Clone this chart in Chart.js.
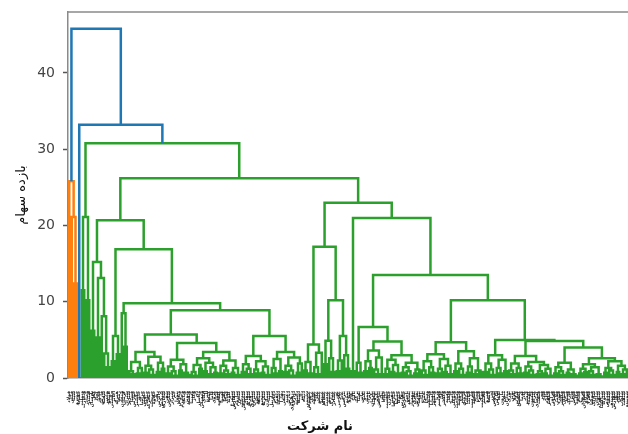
<!DOCTYPE html>
<html>
<head>
<meta charset="utf-8">
<script src="https://cdn.jsdelivr.net/npm/chart.js@4"></script>
<style>
html,body{margin:0;padding:0;background:#fff;overflow:hidden;}
canvas{display:block;}
</style>
</head>
<body>
<canvas id="c" width="628" height="434"></canvas>
<script>
// ---- leaf labels (company names), in dendrogram leaf order ----
const companies = [
 "فولاد","فملی","شپنا","خودرو","خساپا","وبملت","وتجارت","وصادر","شبندر","پارسان",
 "کگل","کچاد","فخوز","فارس","شستا","وغدیر","تاپیکو","حکشتی","اخابر","همراه",
 "رمپنا","ومعادن","کرمان","شتران","شبریز","فسپا","خپارس","خگستر","خاور","خزامیا",
 "خبهمن","ختوقا","خمحرکه","خریخت","خکاوه","رتاپ","زاگرس","شپدیس","شخارک","شفن",
 "شکربن","شیراز","جم","پترول","وپارس","وخارزم","وبانک","ونوین","وپست","وسینا",
 "وکار","دی","وپاسار","ومسکن","اتکای","البرز","کمینا","کاما","کروی","کنور",
 "کساوه","کسرا","کفرا","کخاک","کلوند","سیمرغ","سفارس","ساروم","سخزر","سدشت",
 "سصوفی","سفانو","سهرمز","سشرق","ستران","سخوز","سپاها","سبجنو","سکرما","سمازن",
 "سیتا","ساربیل","دجابر","دلقما","دسبحا","دفارا","دکیمی","دعبید","دپارس","دزهراوی",
 "درازک","داسوه","دسینا","دالبر","دتماد","دشیمی","غبهنوش","غپاک","غشهد","غگل",
 "غمینو","غنوش","غسالم","غدشت","غپینو","غمارگ","غشاذر","غزر","غگرجی","غاذر",
 "بترانس","بموتو","بنیرو","بکام","بالبر","برکت","بمپنا","بپاس","تکنو","تپمپی",
 "تایرا","پکرمان","پسهند","پکویر","پدرخش","پتایر","چکاپا","چافست","چکارن","چفیبر",
 "حپارسا","حسینا","حتوکا","حفارس","حآفرین","ثاخت","ثشاهد","ثبهساز","ثشرق","ثفارس",
 "ثنوسا","ثامان","ثعمرا","وساپا","وصنعت","ولساپا","وبشهر","ورنا","وتوسم","وآتی",
 "وگستر","وسپه","ولغدر","وامید","وبوعلی","وساخت","وتوشه","قشکر","قزوین","قنیشا",
 "قثابت","قلرست","قشهد","قچار","قپیرا","قهکمت","قاسم","قمرو","لابسا","لخزر",
 "لوتوس","لپارس","لکما","مارون","مبین","مداران","نوری","نوین","نیرو","کپارس",
 "کطبس","کدما","کاذر","کپشیر","کهمدا","کیسون","کترام","کسعدی","فنفت","فجر",
 "فاذر","فالوم","فباهنر","فرآور","فسرب","فلامی","فنورد","فگستر","فنوال","فپنتا",
 "فاراک","فایرا","فخاس","فکاوه","فجام","فروی","فسازان","فولای","فافزا","فتوسا",
 "شاراک","شاوان","شبهرن","شپاکسا","شتوکا","شدوص","شسپا","شصدف","شفارس","شکلر",
 "شگل","شلعاب","شنفت","شوینده"
];
const yTicks = [0, 10, 20, 30, 40];
const yMax = 48;
const xTitle = "نام شرکت";
const yTitle = "بازده سهام";
const colorThreshold = 32;
const clusterColors = ["#ff7f0e", "#2ca02c"];
const aboveColor = "#1f77b4";

// ---- linkage tree: [mergeHeight, left, right]; 0 = a single company (leaf) ----
const clusterOrange = [25.8, 0, [21.1, 0, [12.4, 0, 0]]];
const clusterG1 = [21.1, [11.5, 0, 0], [10.2, 0, 0]];
const clusterT = [15.2, [6.2, 0, 0], [13.1, [5.3, 0, 0], [8.1, 0, [3.2, 0, [1.4, 0, 0]]]]];
const clusterU1 = [5.5, [2.2, 0, 0], [3.1, 0, 0]];
const clusterU2a = [8.5, 0, [4.1, 0, 0]];
const clusterP = [3.4,
  [2.1, [0.9, 0, [0.5, 0, 0]], [1.3, [0.6, 0, 0], 0]],
  [2.8, [1.6, [0.7, 0, 0], [1.1, 0, [0.4, 0, 0]]], [2.0, [0.8, 0, 0], [1.2, 0, 0]]]];
const clusterQ = [4.6,
  [2.4, [1.5, [0.6, 0, 0], [0.9, 0, [0.3, 0, 0]]], [1.8, [1.0, 0, 0], [0.7, 0, [0.4, 0, 0]]]],
  [3.4,
    [2.6, [1.7, [0.8, 0, [0.3, 0, 0]], [1.2, 0, 0]], [2.0, [0.9, 0, 0], [1.4, [0.5, 0, 0], [0.7, 0, 0]]]],
    [2.3, [1.6, [0.6, 0, 0], [1.0, 0, [0.5, 0, 0]]], [1.3, [0.7, 0, 0], [0.4, 0, 0]]]]];
const clusterR = [2.9, [1.8, [0.8, 0, 0], [1.2, 0, [0.5, 0, 0]]], [2.2, [1.1, 0, [0.6, 0, 0]], [1.5, [0.7, 0, 0], [0.4, 0, 0]]]];
const clusterS = [3.4, [2.5, [1.3, 0, [0.6, 0, 0]], [0.9, 0, 0]], [2.7, [1.6, [0.8, 0, 0], [1.0, 0, [0.3, 0, 0]]], [1.9, [0.7, 0, 0], 0]]];

const clusterL1 = [4.4, [2.1, [1.0, 0, 0], [0.6, 0, 0]], [3.3, [1.4, 0, [0.5, 0, 0]], 0]];
const clusterL2a = [4.9, [1.8, 0, 0], [2.6, 0, [0.8, 0, 0]]];
const clusterL2b = [5.5, [2.3, [0.9, 0, 0], 0], [3.0, 0, [1.2, 0, 0]]];
const clusterV = [0.9, 0, 0];
const clusterX = [2.0, 0, [0.7, 0, 0]];
const clusterY1 = [3.6, [2.2, [0.9, 0, 0], [1.3, 0, 0]], [2.7, [1.1, 0, [0.5, 0, 0]], 0]];
const clusterY2 = [3.0, [2.4, [1.2, [0.5, 0, 0], 0], [1.7, [0.8, 0, 0], [0.6, 0, 0]]], [2.0, [1.4, [0.7, 0, 0], [0.9, 0, [0.3, 0, 0]]], [1.1, [0.6, 0, 0], 0]]];
const clusterWa1 = [3.1, [2.2, [1.0, 0, [0.4, 0, 0]], [1.4, 0, [0.7, 0, 0]]], [2.5, [1.2, [0.6, 0, 0], 0], [1.6, [0.8, 0, 0], [0.5, 0, 0]]]];
const clusterWa2 = [3.5, [1.9, [0.9, 0, 0], [1.2, 0, [0.4, 0, 0]]], [2.6, [1.5, [0.7, 0, 0], 0], [1.0, [0.5, 0, 0], [0.8, 0, 0]]]];
const clusterA = [3.0, [1.9, [0.8, 0, 0], [1.1, 0, [0.4, 0, 0]]], [2.4, [1.3, 0, [0.6, 0, 0]], [0.9, 0, 0]]];
const clusterC = [2.9, [1.9, [1.0, 0, [0.5, 0, 0]], [1.3, 0, [0.6, 0, 0]]],
  [2.1, [1.5, [0.7, 0, 0], [1.0, 0, [0.4, 0, 0]]], [1.7, [0.9, [0.5, 0, 0], 0], [1.2, [0.6, 0, 0], [0.3, 0, 0]]]]];
const clusterD = [4.0, [2.0, [1.4, [0.6, 0, 0], [0.9, 0, [0.4, 0, 0]]], [1.1, [0.7, 0, 0], [0.5, 0, [0.3, 0, 0]]]],
  [2.6, [1.8, [1.2, [0.6, 0, 0], [0.8, 0, 0]], [1.4, [0.9, 0, [0.4, 0, 0]], [0.5, 0, [0.2, 0, 0]]]],
        [2.2, [1.3, [0.7, 0, 0], [1.0, 0, [0.4, 0, 0]]], [1.6, [0.8, 0, 0], [1.1, [0.5, 0, 0], 0]]]]];

const g2Left = [20.7, clusterT, [16.9, clusterU1, [9.8, clusterU2a, [8.9, [5.7, clusterP, clusterQ], [5.5, clusterR, clusterS]]]]];
const g2Right = [23.0, [17.2, clusterL1, [10.2, clusterL2a, clusterL2b]],
  [21.0, clusterV, [13.5, [6.7, clusterX, [4.8, clusterY1, clusterY2]],
    [10.2, [4.7, clusterWa1, clusterWa2], [5.0, clusterA, [4.85, clusterC, clusterD]]]]]];
const tree = [45.8, clusterOrange, [33.2, 0, [30.8, clusterG1, [26.2, g2Left, g2Right]]]];

// ---- build U-shaped links (scipy-style leaf positions & colouring) ----
let nextLeaf = 0, nextColor = 0;
const linkPoints = {};
function walk(node, color) {
  if (node === 0) { const x = nextLeaf + 0.5; nextLeaf++; return { x: x, h: 0 }; }
  const h = node[0];
  let c = color;
  if (h >= colorThreshold) c = aboveColor;
  else if (!color || color === aboveColor) c = clusterColors[nextColor++ % clusterColors.length];
  const L = walk(node[1], c), R = walk(node[2], c);
  (linkPoints[c] = linkPoints[c] || []).push(
    { x: L.x, y: L.h }, { x: L.x, y: h }, { x: R.x, y: h }, { x: R.x, y: R.h }, { x: R.x, y: null });
  return { x: (L.x + R.x) / 2, h: h };
}
walk(tree, null);
const nLeaves = nextLeaf;
const leafTicks = [];
for (let i = 0; i < nLeaves; i++) leafTicks.push(i + 0.5);

const datasets = [aboveColor, clusterColors[0], clusterColors[1]].filter(c => linkPoints[c]).map(c => ({
  data: linkPoints[c], borderColor: c, borderWidth: 2.5, pointRadius: 0, pointHoverRadius: 0,
  fill: false, tension: 0, spanGaps: false, borderCapStyle: 'butt', borderJoinStyle: 'miter'
}));

const framePlugin = {
  id: 'frame',
  afterDraw(chart) {
    const { ctx, chartArea } = chart;
    ctx.save();
    ctx.strokeStyle = '#8a8a8a';
    ctx.lineWidth = 1.5;
    ctx.beginPath();
    ctx.moveTo(chartArea.left, chartArea.top);
    ctx.lineTo(chartArea.right, chartArea.top);
    ctx.stroke();
    ctx.font = 'bold 13px "DejaVu Sans"';
    ctx.fillStyle = '#111';
    ctx.textAlign = 'center';
    ctx.textBaseline = 'middle';
    ctx.fillText(xTitle, 320, 427);
    ctx.restore();
  }
};

new Chart(document.getElementById('c').getContext('2d'), {
  type: 'line',
  data: { datasets: datasets },
  options: {
    responsive: false, animation: false, devicePixelRatio: 1,
    layout: { padding: { top: 12, left: 0, right: 0, bottom: 0 } },
    plugins: { legend: { display: false }, tooltip: { enabled: false } },
    events: [],
    scales: {
      x: {
        type: 'linear', min: 0, max: nLeaves,
        afterBuildTicks: s => { s.ticks = leafTicks.map(v => ({ value: v })); },
        afterFit: s => { s.height = 56; s.paddingLeft = 0; s.paddingRight = 0; },
        ticks: {
          autoSkip: false, minRotation: 90, maxRotation: 90, padding: 13,
          font: { family: 'DejaVu Sans', size: 4.6, weight: 'bold' }, color: '#1a1a1a',
          callback: (v, i) => companies[i]
        },
        grid: { display: false, drawTicks: false },
        border: { display: true, color: '#8a8a8a', width: 1.5 }
      },
      y: {
        type: 'linear', min: 0, max: yMax,
        afterBuildTicks: s => { s.ticks = yTicks.map(v => ({ value: v })); },
        afterFit: s => { s.width = 68; s.paddingTop = 0; s.paddingBottom = 0; },
        ticks: { padding: 8, font: { family: 'DejaVu Sans', size: 14 }, color: '#444' },
        grid: { display: true, drawOnChartArea: false, drawTicks: true, tickLength: 5, tickColor: '#555', tickWidth: 1.5 },
        border: { display: true, color: '#8a8a8a', width: 1.5 },
        title: { display: true, text: yTitle, font: { family: 'DejaVu Sans', size: 13 }, color: '#111', padding: { top: 14, bottom: 0 } }
      }
    }
  },
  plugins: [framePlugin]
});
</script>
</body>
</html>
